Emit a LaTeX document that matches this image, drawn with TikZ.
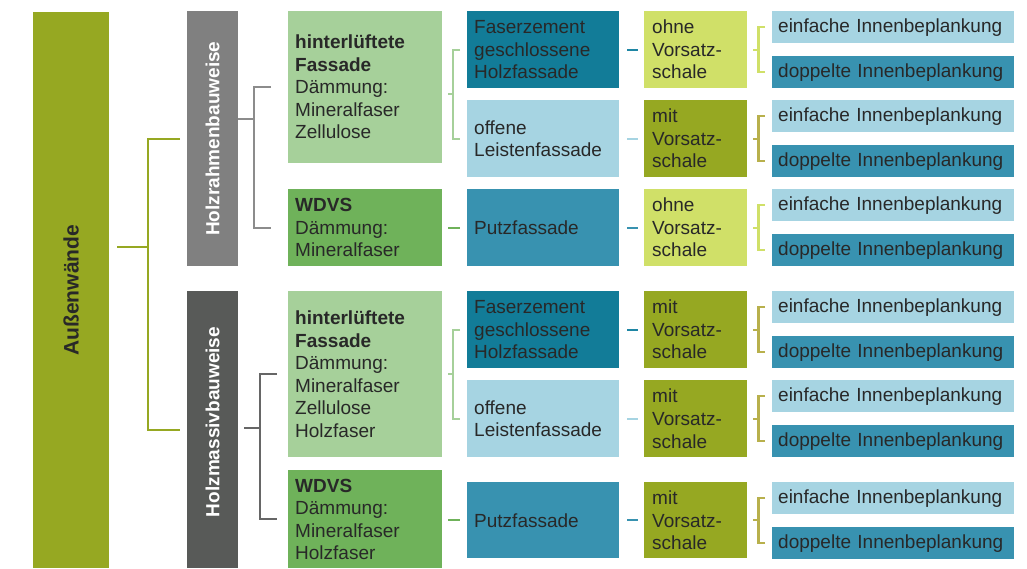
\documentclass[tikz,border=0pt]{standalone}
\usepackage{fontspec}
\setmainfont{Liberation Sans}
\definecolor{olv}{RGB}{150,168,34}
\definecolor{ohne}{RGB}{208,224,104}
\definecolor{mitb}{RGB}{184,176,76}
\definecolor{grayA}{RGB}{128,128,128}
\definecolor{grayB}{RGB}{88,90,88}
\definecolor{grayAl}{RGB}{140,140,140}
\definecolor{grayBl}{RGB}{102,102,102}
\definecolor{lgreen}{RGB}{166,208,154}
\definecolor{green}{RGB}{111,178,90}
\definecolor{dteal}{RGB}{18,124,152}
\definecolor{dtealstub}{RGB}{30,134,164}
\definecolor{lblue}{RGB}{166,212,226}
\definecolor{mteal}{RGB}{56,146,176}
\definecolor{txt}{RGB}{40,40,40}
\begin{document}
\begin{tikzpicture}[x=1pt,y=-1pt,
  cell/.style={anchor=north west, inner ysep=0pt, align=left, text=txt,
    font=\fontsize{19}{22.5}\selectfont},
  c3/.style={cell, inner xsep=7pt, text width=140pt},
  c4/.style={cell, inner xsep=7pt, text width=138pt},
  c5/.style={cell, inner xsep=8pt, text width=87pt},
  c6/.style={cell, inner xsep=6pt, text width=230pt, minimum height=32pt},
  vert/.style={rotate=90, font=\bfseries\fontsize{19}{22}\selectfont},
  ln/.style={line width=2.2pt},
]
\useasboundingbox (0,0) rectangle (1027,568);

% level 1 and 2: walls and construction types
\node[anchor=north west, fill=olv, minimum width=76pt, minimum height=556pt, inner sep=0pt] (aw) at (33,12) {};
\node[rotate=90, font=\bfseries\fontsize{21}{24}\selectfont, text=txt] (awt) at (aw.center) {Außenwände};
\node[anchor=north west, fill=grayA, minimum width=51pt, minimum height=255pt, inner sep=0pt] (hr) at (187,11) {};
\node[vert, text=white] (hrt) at (hr.center) {Holzrahmenbauweise};
\node[anchor=north west, fill=grayB, minimum width=51pt, minimum height=277pt, inner sep=0pt] (hm) at (187,291) {};
\node[vert, text=white] (hmt) at (212.5,422) {Holzmassivbauweise};

% level 3: facade systems
\node[c3, fill=lgreen, minimum height=152pt] (f1) at (288,11) {\textbf{hinterlüftete}\\\textbf{Fassade}\\Dämmung:\\Mineralfaser\\Zellulose};
\node[c3, fill=green, minimum height=77pt] (w1) at (288,189) {\textbf{WDVS}\\Dämmung:\\Mineralfaser};
\node[c3, fill=lgreen, minimum height=166pt] (f2) at (288,291) {\textbf{hinterlüftete}\\\textbf{Fassade}\\Dämmung:\\Mineralfaser\\Zellulose\\Holzfaser};
\node[c3, fill=green, minimum height=98pt] (w2) at (288,470) {\textbf{WDVS}\\Dämmung:\\Mineralfaser\\Holzfaser};

% level 4: facade cladding
\node[c4, fill=dteal, minimum height=77pt] (g1) at (467,11) {Faserzement\\geschlossene\\Holzfassade};
\node[c4, fill=lblue, minimum height=77pt] (o1) at (467,100) {offene\\Leistenfassade};
\node[c4, fill=mteal, minimum height=77pt] (p1) at (467,189) {Putzfassade};
\node[c4, fill=dteal, minimum height=77pt] (g2) at (467,291) {Faserzement\\geschlossene\\Holzfassade};
\node[c4, fill=lblue, minimum height=77pt] (o2) at (467,380) {offene\\Leistenfassade};
\node[c4, fill=mteal, minimum height=76pt] (p2) at (467,482) {Putzfassade};

% level 5: installation layer
\node[c5, fill=ohne, minimum height=77pt] (v1) at (644,11) {ohne\\Vorsatz-\\schale};
\node[c5, fill=olv, minimum height=77pt] (v2) at (644,100) {mit\\Vorsatz-\\schale};
\node[c5, fill=ohne, minimum height=77pt] (v3) at (644,189) {ohne\\Vorsatz-\\schale};
\node[c5, fill=olv, minimum height=77pt] (v4) at (644,291) {mit\\Vorsatz-\\schale};
\node[c5, fill=olv, minimum height=77pt] (v5) at (644,380) {mit\\Vorsatz-\\schale};
\node[c5, fill=olv, minimum height=76pt] (v6) at (644,482) {mit\\Vorsatz-\\schale};

% level 6: interior sheathing
\foreach \i/\ya/\yb in {1/11/56, 2/100/145, 3/189/234, 4/291/336, 5/380/425, 6/482/527} {
  \node[c6, fill=lblue] (e\i) at (772,\ya) {einfache Innenbeplankung};
  \node[c6, fill=mteal] (d\i) at (772,\yb) {doppelte Innenbeplankung};
}

% connectors
\coordinate (j1) at (148,247);
\draw[ln, olv] ([xshift=8pt]aw.east |- j1) -- (j1);
\draw[ln, olv] ([xshift=-7pt]hr.west) -| (j1) |- ([xshift=-7pt]hm.west);

\coordinate (j2) at (254,119);
\draw[ln, grayAl] (hr.east |- j2) -- (j2);
\draw[ln, grayAl] ([xshift=-17pt]f1.west) -| (j2) |- ([xshift=-17pt]w1.west);

\coordinate (j3) at (260,428);
\draw[ln, grayBl] ([xshift=6pt]hm.east |- j3) -- (j3);
\draw[ln, grayBl] ([xshift=-11pt]f2.west) -| (j3) |- ([xshift=-11pt]w2.west);

\coordinate (j4) at (453,94);
\draw[ln, lgreen] ([xshift=6pt]f1.east |- j4) -- (j4);
\draw[ln, lgreen] ([xshift=-7pt]g1.west) -| (j4) |- ([xshift=-7pt]o1.west);

\coordinate (j5) at (453,374);
\draw[ln, lgreen] ([xshift=6pt]f2.east |- j5) -- (j5);
\draw[ln, lgreen] ([xshift=-7pt]g2.west) -| (j5) |- ([xshift=-7pt]o2.west);

\draw[ln, green] ([xshift=6pt]w1.east |- p1.west) -- ([xshift=-7pt]p1.west);
\draw[ln, green] ([xshift=6pt]w2.east |- p2.west) -- ([xshift=-7pt]p2.west);

\foreach \a/\b/\c in {g1/v1/dtealstub, o1/v2/lblue, p1/v3/mteal, g2/v4/dtealstub, o2/v5/lblue, p2/v6/mteal}
  \draw[ln, \c] ([xshift=8pt]\a.east) -- ([xshift=-6pt]\b.west);

\foreach \i/\c in {1/ohne, 2/mitb, 3/ohne, 4/mitb, 5/mitb, 6/mitb} {
  \coordinate (b\i) at ([xshift=11pt]v\i.east);
  \draw[ln, \c] ([xshift=6pt]v\i.east) -- (b\i);
  \draw[ln, \c] ([xshift=-7pt]e\i.west) -| (b\i) |- ([xshift=-7pt]d\i.west);
}
\end{tikzpicture}
\end{document}
